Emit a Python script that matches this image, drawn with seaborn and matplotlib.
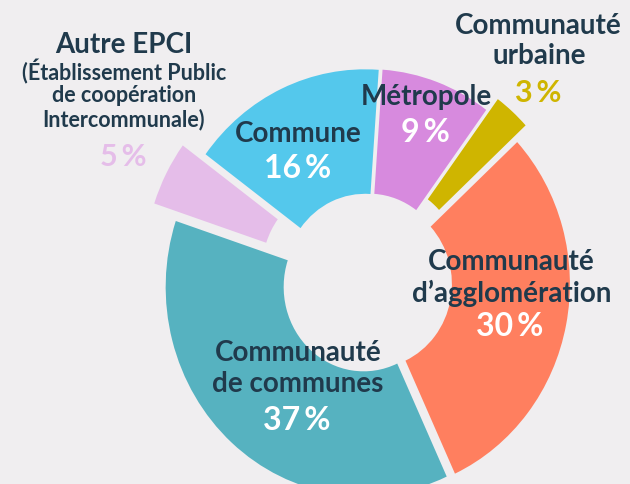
import matplotlib
matplotlib.use("Agg")
import matplotlib.pyplot as plt
import seaborn as sns

# Répartition des collectivités par type
categories = ["Métropole", "Communauté urbaine", "Communauté d'agglomération",
              "Communauté de communes", "Autre EPCI", "Commune"]
values = [9, 3, 30, 37, 5, 16]
pct_labels = ["9\u2009%", "3\u2009%", "30\u2009%", "37\u2009%", "5\u2009%", "16\u2009%"]
colors = ["#d78ade", "#cfb500", "#ff7f5f", "#56b2c0", "#e5bde9", "#54c8ec"]
# offsets in data units (the axes is laid out roughly in pixels)
explode = [5, 20, 5, 5, 28, 5]

BG = "#f0eef0"
INK = "#203a4c"

W, H = 630, 484
STRETCH = 1.055  # the ring is drawn slightly taller than wide

sns.set_style("white")
plt.rcParams["font.family"] = ["Lato", "DejaVu Sans"]

fig = plt.figure(figsize=(W / 100, H / 100), dpi=100, facecolor=BG)
ax = fig.add_axes([0, 0, 1, 1])
ax.set_facecolor(BG)

palette = sns.color_palette(colors)
ax.pie(values, colors=palette, startangle=86, counterclock=False,
       explode=explode, radius=198, center=(367, (H - 283) / STRETCH),
       wedgeprops=dict(width=118, linewidth=0), frame=True)

ax.set_aspect("auto")
ax.set_xlim(0, W)
ax.set_ylim(0, H / STRETCH)
ax.axis("off")

def T(x, y, s, size, color=INK, weight="bold"):
    fig.text(x / W, 1 - y / H, s, ha="center", va="center", fontsize=size,
             color=color, fontweight=weight)

# Autre EPCI
T(124, 45, "Autre EPCI", 20)
T(124, 72, "(Établissement Public", 15.5)
T(124, 96, "de coopération", 15.5)
T(124, 120, "Intercommunale)", 15.5)
T(123, 157, pct_labels[4], 22, colors[4])

# Communauté urbaine
T(538, 26, "Communauté", 20)
T(539, 56, "urbaine", 20)
T(538, 93, pct_labels[1], 22, colors[1])

# Métropole
T(426, 97, "Métropole", 20)
T(425, 132, pct_labels[0], 23, "white")

# Commune
T(298, 134, "Commune", 20)
T(298, 169, pct_labels[5], 23, "white")

# Communauté d'agglomération
T(511, 262, "Communauté", 20)
T(512, 293, "d\u2019agglomération", 20)
T(510, 327, pct_labels[2], 23, "white")

# Communauté de communes
T(298, 353, "Communauté", 20)
T(298, 384, "de communes", 20)
T(297, 420, pct_labels[3], 23, "white")

fig.savefig("out.png", dpi=100, facecolor=BG)
